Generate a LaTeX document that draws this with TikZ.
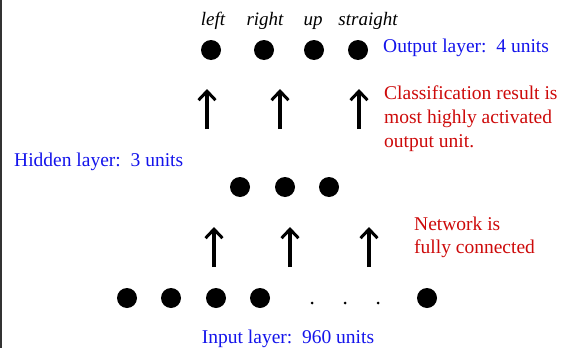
\documentclass[tikz,border=0pt]{standalone}
\usepackage{fontspec}
\setmainfont{Liberation Serif}
\usetikzlibrary{arrows.meta}
\definecolor{lblblue}{RGB}{20,20,235}
\definecolor{lblred}{RGB}{205,10,10}
\tikzset{
  unit/.style={circle,fill=black,inner sep=0pt,minimum size=20pt},
  tiny/.style={circle,fill=black,inner sep=0pt,minimum size=3pt},
  conn/.style={line width=3.4pt,-{Straight Barb[length=9pt,width=17pt,line width=3pt]}},
  bluelbl/.style={text=lblblue,font=\fontsize{19.5pt}{24pt}\selectfont,inner sep=0pt},
  redlbl/.style={text=lblred,font=\fontsize{19.5pt}{24pt}\selectfont,inner sep=0pt,anchor=base west},
  outlbl/.style={font=\fontsize{19pt}{22pt}\selectfont\itshape,inner sep=0pt,anchor=base},
}
\begin{document}
\begin{tikzpicture}[x=1pt,y=-1pt]
\useasboundingbox (0,0) rectangle (570,348);
\draw[line width=1.5pt,black!80] (1,0) -- (1,348);
% output layer
\node[unit] (o1) at (211,50) {};
\node[unit] (o2) at (264,50) {};
\node[unit] (o3) at (314,50) {};
\node[unit] (o4) at (358,50) {};
\node[outlbl] (l1) at (213,25) {left};
\node[outlbl] (l2) at (265,25) {right};
\node[outlbl] (l3) at (313,25) {up};
\node[outlbl] (l4) at (368,25) {straight};
\node[bluelbl,anchor=base west] (olab) at (383,52) {Output layer:\ \ 4 units};
% hidden layer
\node[unit] (h1) at (240,187) {};
\node[unit] (h2) at (285,187) {};
\node[unit] (h3) at (329,187) {};
\node[bluelbl,anchor=base west] (hlab) at (14,166) {Hidden layer:\ \ 3 units};
% input layer
\node[unit] (i1) at (127,298) {};
\node[unit] (i2) at (171,298) {};
\node[unit] (i3) at (216,298) {};
\node[unit] (i4) at (260,298) {};
\node[tiny] (d1) at (312,303) {};
\node[tiny] (d2) at (345,303) {};
\node[tiny] (d3) at (378,303) {};
\node[unit] (i5) at (427,298) {};
\node[bluelbl,anchor=base] (ilab) at (288,343) {Input layer:\ \ 960 units};
% arrows
\coordinate (ua1) at (207,129); \coordinate (ub1) at (207,89);
\coordinate (ua2) at (280,129); \coordinate (ub2) at (280,89);
\coordinate (ua3) at (359,129); \coordinate (ub3) at (359,89);
\draw[conn] (ua1) -- (ub1);
\draw[conn] (ua2) -- (ub2);
\draw[conn] (ua3) -- (ub3);
\coordinate (la1) at (214,267); \coordinate (lb1) at (214,227);
\coordinate (la2) at (290,267); \coordinate (lb2) at (290,227);
\coordinate (la3) at (369,267); \coordinate (lb3) at (369,227);
\draw[conn] (la1) -- (lb1);
\draw[conn] (la2) -- (lb2);
\draw[conn] (la3) -- (lb3);
% notes
\node[redlbl] (cls1) at (384,99) {Classification result is};
\node[redlbl] (cls2) at (384,123) {most highly activated};
\node[redlbl] (cls3) at (384,147) {output unit.};
\node[redlbl] (net1) at (414,230) {Network is};
\node[redlbl] (net2) at (414,253) {fully connected};
\end{tikzpicture}
\end{document}
